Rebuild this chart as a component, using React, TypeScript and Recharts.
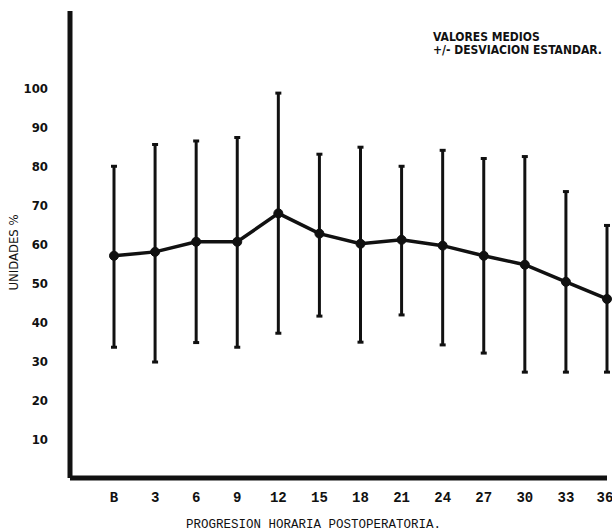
import { CartesianGrid, ErrorBar, Line, LineChart, XAxis, YAxis } from "recharts";

// hours after surgery ("B" = baseline)
const hours = ["B", "3", "6", "9", "12", "15", "18", "21", "24", "27", "30", "33", "36"];
// mean values and the ends of the +/- SD bars
const means = [57.1, 58.1, 60.7, 60.7, 68, 62.8, 60.2, 61.2, 59.7, 57.1, 54.8, 50.4, 46];
const upper = [80.1, 85.7, 86.6, 87.5, 98.9, 83.2, 85, 80.1, 84.2, 82.1, 82.6, 73.6, 64.9];
const lower = [33.6, 29.8, 34.8, 33.6, 37.2, 41.6, 34.9, 41.9, 34.2, 32.1, 27.2, 27.2, 27.2];
const yTicks = [10, 20, 30, 40, 50, 60, 70, 80, 90, 100];

const data = hours.map((h, i) => ({
  hour: h,
  mean: means[i],
  sd: [means[i] - lower[i], upper[i] - means[i]],
}));

const INK = "#111";

export default function App() {
  return (
    <div style={{ position: "absolute", left: 0, top: 0, width: 612, height: 532, background: "#fff" }}>
      <LineChart
        width={612}
        height={532}
        data={data}
        margin={{ top: 11, right: 5, bottom: 0, left: 0 }}
      >
        <CartesianGrid stroke="none" />
        <XAxis
          dataKey="hour"
          height={54}
          padding={{ left: 44, right: 0 }}
          tickLine={false}
          tickMargin={8}
          axisLine={{ stroke: INK, strokeWidth: 5 }}
          tick={{ fontSize: 14, fontWeight: 700, fill: INK, fontFamily: "Liberation Mono" }}
          label={{
            value: "PROGRESION HORARIA POSTOPERATORIA.",
            position: "insideBottom",
            offset: 4,
            dx: -25,
            style: { fontSize: 12.5, fill: INK, fontFamily: "Liberation Mono" },
          }}
        />
        <YAxis
          width={70}
          domain={[0, 120]}
          ticks={yTicks}
          tickLine={false}
          tickMargin={16}
          axisLine={{ stroke: INK, strokeWidth: 5 }}
          tick={{ fontSize: 13, fontWeight: 700, fill: INK, fontFamily: "DejaVu Sans Condensed" }}
          label={{
            value: "UNIDADES %",
            angle: -90,
            position: "center",
            dx: -22,
            dy: 8,
            style: { fontSize: 13, fill: INK, fontFamily: "DejaVu Sans Condensed", textAnchor: "middle" },
          }}
        />
        <Line
          dataKey="mean"
          stroke={INK}
          strokeWidth={3.5}
          dot={{ r: 4.5, fill: INK, stroke: INK, strokeWidth: 1 }}
          isAnimationActive={false}
        >
          <ErrorBar dataKey="sd" width={3} stroke={INK} strokeWidth={3} direction="y" />
        </Line>
      </LineChart>
      <div
        style={{
          position: "absolute",
          left: 433,
          top: 31,
          fontFamily: "DejaVu Sans Condensed",
          fontWeight: 700,
          fontSize: 12,
          lineHeight: "13px",
          color: INK,
          whiteSpace: "pre",
        }}
      >
        {"VALORES MEDIOS\n+/- DESVIACION ESTANDAR."}
      </div>
    </div>
  );
}
